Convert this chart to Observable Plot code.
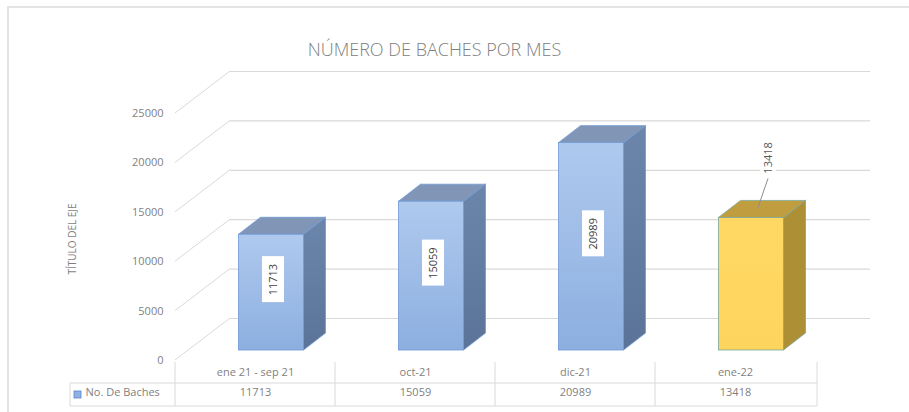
<!DOCTYPE html>
<html><head><meta charset="utf-8">
<script src="https://cdn.jsdelivr.net/npm/d3@7"></script>
<script src="https://cdn.jsdelivr.net/npm/@observablehq/plot@0.6"></script>
<style>body{margin:0;background:#fff;} svg{display:block;}</style>
</head><body><div id="chart"></div>
<script>
// ---- data ----
const categories = ["ene 21 - sep 21", "oct-21", "dic-21", "ene-22"];
const values = [11713, 15059, 20989, 13418];
const yTicks = [0, 5000, 10000, 15000, 20000, 25000];
const seriesName = "No. De Baches";
const chartTitle = "NÚMERO DE BACHES POR MES";
const axisTitle = "TÍTULO DEL EJE";

const rows = categories.map((c, i) => ({cat: c, value: values[i], i}));

// ---- 3D projection offsets (pixels) ----
const BAR = {dx: 16, dy: -10};
const DEPTH = {dx: 22, dy: -17};
const WALL = {dx: 55, dy: -42};
const BAR_W = 65;
const FONT = "'Open Sans', 'Liberation Sans', sans-serif";
const GRID = "#d9d9d9";

const styles = i => i === 3
  ? {front: "url(#gYellow)", side: "#ad9035", top: "#c09e3f", edge: "#7aa79c"}
  : {front: "url(#gBlue)", side: "url(#gBlueSide)", top: "#8196b6", edge: "#6d9bd6"};

function bandInfo(x) {
  return x.bandwidth ? x.bandwidth() : (x(categories[1]) - x(categories[0]));
}

// backdrop: border, gradients, wall diagonals
function backdrop(index, scales, v, dims) {
  const {y} = scales;
  const g = d3.create("svg:g");
  const defs = g.append("defs");
  const grad = (id, a, b) => {
    const lg = defs.append("linearGradient").attr("id", id)
      .attr("x1", 0).attr("y1", 0).attr("x2", 0).attr("y2", 1);
    lg.append("stop").attr("offset", "0%").attr("stop-color", a);
    lg.append("stop").attr("offset", "100%").attr("stop-color", b);
  };
  grad("gBlue", "#afc9ee", "#8cafe0");
  grad("gBlueSide", "#6c86ab", "#5b7398");
  grad("gYellow", "#ffd864", "#fdd55e");
  g.append("rect").attr("x", 8).attr("y", 7)
    .attr("width", dims.width + 20).attr("height", dims.height + 20)
    .attr("fill", "none").attr("stroke", "#dcdcdc").attr("stroke-width", 1.5);
  const x0 = dims.marginLeft;
  for (const t of yTicks) {
    g.append("line")
      .attr("x1", x0).attr("y1", y(t))
      .attr("x2", x0 + WALL.dx).attr("y2", y(t) + WALL.dy)
      .attr("stroke", GRID).attr("stroke-width", 1);
  }
  return g.node();
}

// side & top faces of the 3D columns
function faces(index, scales) {
  const {x, y} = scales;
  const bw = bandInfo(x);
  const g = d3.create("svg:g");
  rows.forEach(d => {
    const s = styles(d.i);
    const cx = x(d.cat) + bw / 2 + BAR.dx;
    const x0 = cx - BAR_W / 2, x1 = cx + BAR_W / 2;
    const yb = y(0) + BAR.dy, yt = y(d.value) + BAR.dy;
    const side = [[x1, yt], [x1 + DEPTH.dx, yt + DEPTH.dy], [x1 + DEPTH.dx, yb + DEPTH.dy], [x1, yb]];
    const top = [[x0, yt], [x1, yt], [x1 + DEPTH.dx, yt + DEPTH.dy], [x0 + DEPTH.dx, yt + DEPTH.dy]];
    g.append("polygon").attr("points", side.join(" ")).attr("fill", s.side)
      .attr("stroke", s.edge).attr("stroke-width", 0.8).attr("stroke-linejoin", "round");
    g.append("polygon").attr("points", top.join(" ")).attr("fill", s.top)
      .attr("stroke", s.edge).attr("stroke-width", 0.8).attr("stroke-linejoin", "round");
  });
  return g.node();
}

// label boxes, leader line, data table grid, legend key
function overlay(index, scales, v, dims) {
  const {x, y} = scales;
  const bw = bandInfo(x);
  const g = d3.create("svg:g");
  rows.forEach(d => {
    const cx = x(d.cat) + bw / 2 + BAR.dx;
    const yt = y(d.value) + BAR.dy;
    if (d.i < 3) {
      const cy = (y(d.value / 2)) + BAR.dy - 13;
      g.append("rect").attr("x", cx + 2 - 11).attr("y", cy - 23).attr("width", 22).attr("height", 46)
        .attr("fill", "#fff");
    } else {
      const lx = cx + 17, ly = yt - 60;
      g.append("rect").attr("x", lx - 8).attr("y", ly - 20).attr("width", 16).attr("height", 40)
        .attr("fill", "#fff");
      g.append("line").attr("x1", lx).attr("y1", yt - 39).attr("x2", lx - 10).attr("y2", yt - 10)
        .attr("stroke", "#8c8c8c").attr("stroke-width", 1);
    }
  });
  // table grid
  const top = dims.height - dims.marginBottom + 2;
  const mid = top + 21, bot = top + 44;
  const right = x(categories[categories.length - 1]) + bw + 2;
  const line = (x1, y1, x2, y2) => g.append("line").attr("x1", x1).attr("y1", y1).attr("x2", x2).attr("y2", y2)
    .attr("stroke", "#dadada").attr("stroke-width", 1);
  line(70, mid, right, mid);
  line(70, bot, right, bot);
  line(70, mid, 70, bot);
  categories.forEach(c => line(x(c), top, x(c), bot));
  line(right, top, right, bot);
  // legend key
  g.append("rect").attr("x", 74).attr("y", mid + 8).attr("width", 7).attr("height", 7)
    .attr("fill", "#8fb2e3").attr("stroke", "#5b86c5").attr("stroke-width", 0.8);
  return g.node();
}

const chart = Plot.plot({
  width: 909,
  height: 412,
  marginLeft: 175,
  marginRight: 94,
  marginTop: 113,
  marginBottom: 52,
  style: {fontFamily: FONT, background: "#fff", overflow: "hidden"},
  x: {type: "band", domain: categories, padding: 0, axis: null},
  y: {domain: [0, 25000], axis: null},
  marks: [
    backdrop,
    Plot.ruleY(yTicks, {dx: WALL.dx, dy: WALL.dy, stroke: GRID, strokeWidth: 1.2}),
    Plot.axisY(yTicks, {tickSize: 0, tickPadding: 12, fontSize: 11, fill: "#7f7f7f", label: null, tickFormat: d => String(d)}),
    Plot.text([axisTitle], {frameAnchor: "left", textAnchor: "middle", dx: -103, dy: 2, rotate: -90, fontSize: 10, fill: "#7f7f7f"}),
    Plot.text([chartTitle], {frameAnchor: "top", dx: -61, dy: -70, fontSize: 18, fill: "#808080", fontWeight: 300}),
    faces,
    Plot.barY(rows.filter(d => d.i < 3), {x: "cat", y: "value", dx: BAR.dx, dy: BAR.dy,
      insetLeft: 47.5, insetRight: 47.5, fill: "url(#gBlue)", stroke: "#6d9bd6", strokeWidth: 0.8}),
    Plot.barY(rows.filter(d => d.i === 3), {x: "cat", y: "value", dx: BAR.dx, dy: BAR.dy,
      insetLeft: 47.5, insetRight: 47.5, fill: "url(#gYellow)", stroke: "#7aa79c", strokeWidth: 0.8}),
    overlay,
    Plot.text(rows.filter(d => d.i < 3), {x: "cat", y: d => d.value / 2, text: d => String(d.value),
      rotate: -90, dx: BAR.dx + 2, dy: BAR.dy - 13, fontSize: 11, fill: "#404040"}),
    Plot.text(rows.filter(d => d.i === 3), {x: "cat", y: "value", text: d => String(d.value),
      rotate: -90, dx: BAR.dx + 17, dy: BAR.dy - 60, fontSize: 11, fill: "#595959"}),
    // data table texts
    Plot.text(rows, {x: "cat", text: "cat", frameAnchor: "bottom", dy: 15, fontSize: 11, fill: "#7f7f7f"}),
    Plot.text(rows, {x: "cat", text: d => String(d.value), frameAnchor: "bottom", dy: 35, fontSize: 11, fill: "#7f7f7f"}),
    Plot.text([seriesName], {frameAnchor: "bottom-left", dx: -90, dy: 35, textAnchor: "start", fontSize: 11, fill: "#7f7f7f"})
  ]
});
document.getElementById("chart").append(chart);
</script>
</body></html>
